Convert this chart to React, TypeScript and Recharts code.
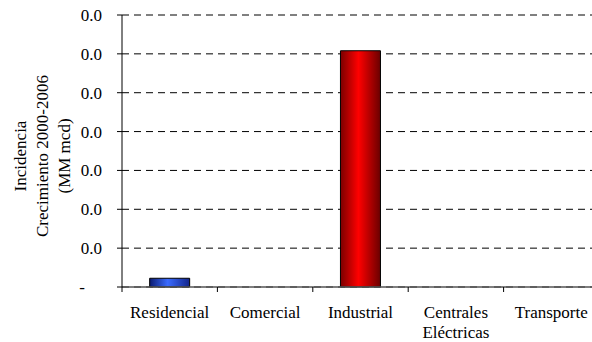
import { BarChart, Bar, XAxis, YAxis, CartesianGrid, Cell } from 'recharts'

const categories = ['Residencial', 'Comercial', 'Industrial', 'Centrales Eléctricas', 'Transporte']
const incidencia = [0.00045, 0, 0.01216, 0, 0]
const yTicks = [0, 0.002, 0.004, 0.006, 0.008, 0.01, 0.012, 0.014]

const data = categories.map((name, i) => ({ name, value: incidencia[i] }))

const fills = ['url(#gradBlue)', 'url(#gradBlue)', 'url(#gradRed)', 'url(#gradRed)', 'url(#gradRed)']

const textStyle = { fontFamily: "'Liberation Serif', 'Times New Roman', serif", fontSize: 17 }

// category labels, with a tick mark at the left edge of each band
function CategoryTick(props: any) {
  const { x, y, payload, width } = props
  const band = (width || 477) / categories.length
  const words: string[] = payload.value === 'Centrales Eléctricas' ? ['Centrales', 'Eléctricas'] : [payload.value]
  return (
    <g>
      <line x1={x - band / 2} x2={x - band / 2} y1={y} y2={y + 5} stroke="#000" />
      {words.map((w, i) => (
        <text key={i} x={x} y={y + 31 + i * 20} textAnchor="middle" style={textStyle} fill="#000">
          {w}
        </text>
      ))}
    </g>
  )
}

function ValueTick(props: any) {
  const { x, y, payload } = props
  const zero = payload.value === 0
  return (
    <text x={zero ? x - 17 : x} y={y} dy="0.35em" textAnchor="end" style={textStyle} fill="#000">
      {zero ? '-' : payload.value.toFixed(1)}
    </text>
  )
}

function AxisTitle() {
  return (
    <text transform="translate(42,156) rotate(-90)" textAnchor="middle" style={textStyle} fill="#000">
      <tspan x={0} y={-22} dy="0.35em">Incidencia</tspan>
      <tspan x={0} y={0} dy="0.35em">Crecimiento 2000-2006</tspan>
      <tspan x={0} y={22} dy="0.35em">(MM mcd)</tspan>
    </text>
  )
}

export default function App() {
  return (
    <div style={{ position: 'absolute', left: 0, top: 0, width: 592, height: 342, overflow: 'hidden', background: '#fff' }}>
      <BarChart width={610} height={342} data={data} margin={{ top: 15, right: 11, bottom: 0, left: 0 }} barCategoryGap="29%">
        <defs>
          <linearGradient id="gradBlue" x1="0" y1="0" x2="1" y2="0">
            <stop offset="0" stopColor="#0a1a70" />
            <stop offset="0.45" stopColor="#3a6bff" />
            <stop offset="1" stopColor="#12248a" />
          </linearGradient>
          <linearGradient id="gradRed" x1="0" y1="0" x2="1" y2="0">
            <stop offset="0" stopColor="#7a0000" />
            <stop offset="0.45" stopColor="#ff0000" />
            <stop offset="1" stopColor="#6a0000" />
          </linearGradient>
        </defs>
        <CartesianGrid vertical={false} stroke="#000" strokeDasharray="7 5" />
        <XAxis
          dataKey="name"
          height={55}
          tickLine={false}
          tickSize={0}
          tickMargin={0}
          interval={0}
          tick={<CategoryTick />}
          axisLine={{ stroke: '#555', strokeWidth: 1.5 }}
        />
        <YAxis
          width={122}
          domain={[0, 0.014]}
          ticks={yTicks}
          interval={0}
          tickSize={5}
          tickMargin={15}
          tick={<ValueTick />}
          tickLine={{ stroke: '#000' }}
          axisLine={{ stroke: '#000' }}
          label={<AxisTitle />}
        />
        <Bar dataKey="value" stroke="#000" strokeWidth={1} isAnimationActive={false}>
          {data.map((d, i) => (
            <Cell key={d.name} fill={fills[i]} />
          ))}
        </Bar>
      </BarChart>
    </div>
  )
}
